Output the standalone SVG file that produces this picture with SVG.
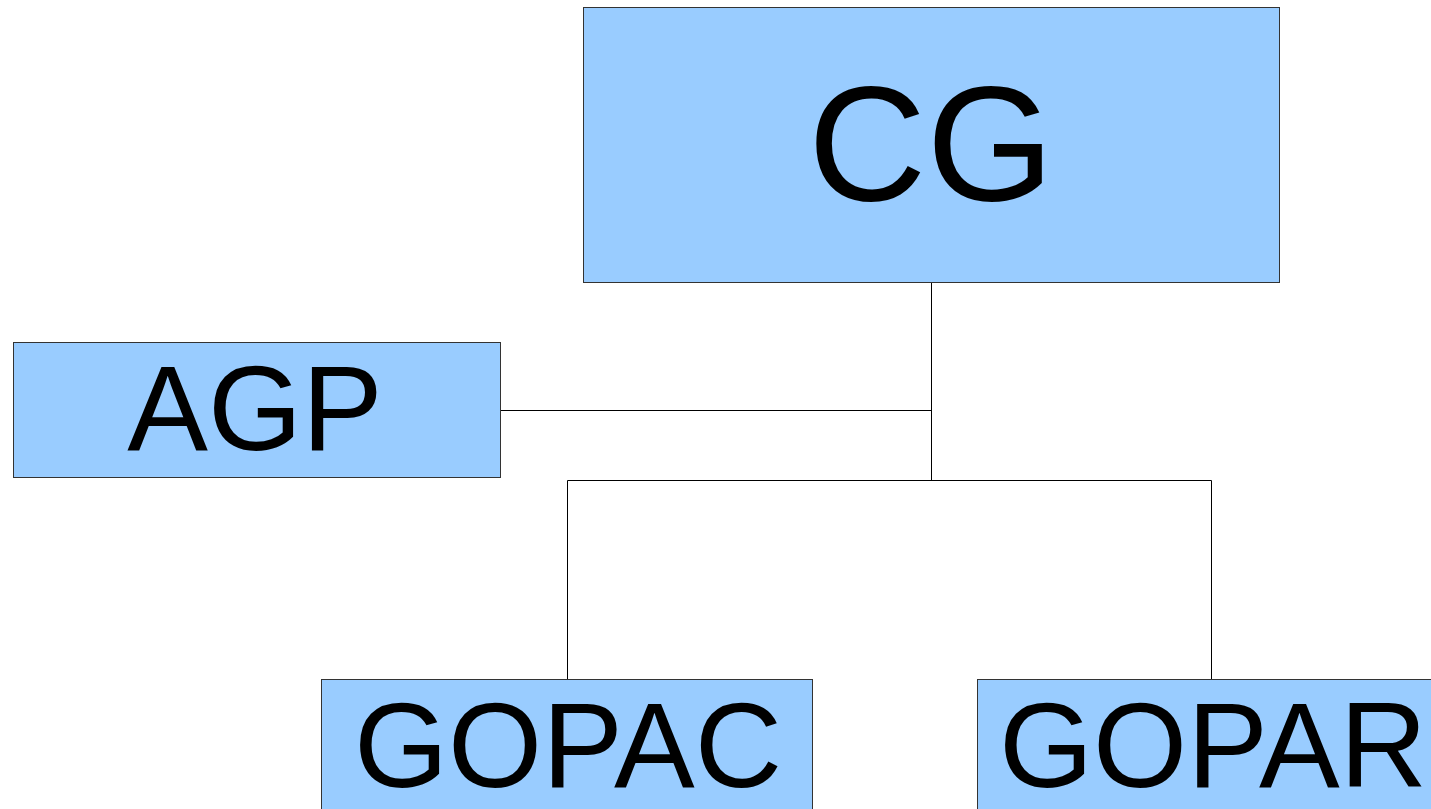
<svg xmlns="http://www.w3.org/2000/svg" width="1431" height="809" viewBox="0 0 1431 809">
<style>
.box{fill:#99ccff;stroke:#333333;stroke-width:1}
.lbl{font-family:"Liberation Sans",Arial,sans-serif;fill:#000;text-anchor:middle}
.con{stroke:#000;stroke-width:1;fill:none}
</style>
<rect width="1431" height="809" fill="#ffffff"/>
<g id="connectors">
<path class="con" d="M931.5 282 V480.5"/>
<path class="con" d="M500 410.5 H931.5"/>
<path class="con" d="M567.5 480.5 H1211.5"/>
<path class="con" d="M567.5 480.5 V679"/>
<path class="con" d="M1211.5 480.5 V679"/>
</g>
<g id="CG">
<rect class="box" x="583.5" y="7.5" width="696" height="275"/>
<text class="lbl" x="931" y="200" font-size="164">CG</text>
</g>
<g id="AGP">
<rect class="box" x="13.5" y="342.5" width="487" height="135"/>
<text class="lbl" x="255" y="450" font-size="121">AGP</text>
</g>
<g id="GOPAC">
<rect class="box" x="321.5" y="679.5" width="491" height="140"/>
<text class="lbl" x="568" y="787" font-size="121">GOPAC</text>
</g>
<g id="GOPAR">
<rect class="box" x="977.5" y="679.5" width="470" height="140"/>
<text class="lbl" x="1213" y="787" font-size="121">GOPAR</text>
</g>
</svg>
